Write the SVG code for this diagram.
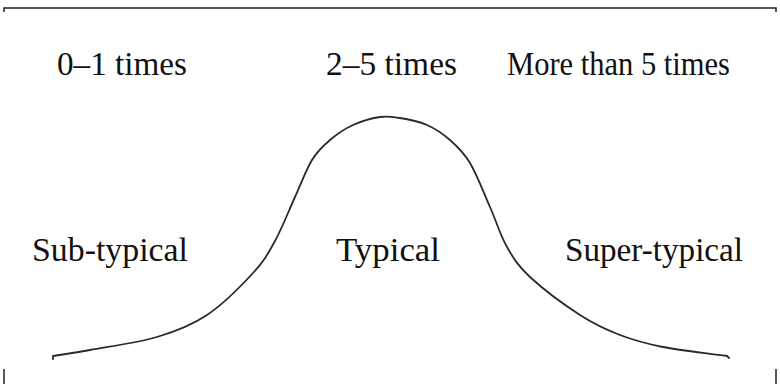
<svg xmlns="http://www.w3.org/2000/svg" width="780" height="384" viewBox="0 0 780 384">
<style>
.lbl{font-family:"Liberation Serif","Times New Roman",serif;font-size:34px;fill:#111}
.frame{fill:none;stroke:#222;stroke-width:1.5}
.curve{fill:none;stroke:#2a2a2a;stroke-width:1.8;stroke-linejoin:round;stroke-linecap:round}
</style>
<rect width="780" height="384" fill="#fff"/>
<g id="frame">
<path class="frame" d="M4,12 V8 H776 V12"/>
<path class="frame" d="M4,369 V384 M776,369 V384"/>
</g>
<g id="connectors">
<path id="bell-curve" class="curve" d="M53,359 L53,356 C65.3,354 72.7,353.2 90,350 C107.3,346.8 137.5,342.8 157,337 C176.5,331.2 191,325.7 207,315 C223,304.3 241.7,285.3 253,273 C264.3,260.7 268,253.7 275,241 C282,228.3 288.8,210.5 295,197 C301.2,183.5 306.2,169.5 312,160 C317.8,150.5 323.2,145.8 330,140 C336.8,134.2 344.7,128.8 353,125 C361.3,121.2 372.2,118.2 380,117 C387.8,115.8 392.2,116.7 400,118 C407.8,119.3 418.7,121.3 427,125 C435.3,128.7 442.8,133.7 450,140 C457.2,146.3 463.3,151.8 470,163 C476.7,174.2 483.8,193 490,207 C496.2,221 500.3,235.3 507,247 C513.7,258.7 517.8,265.7 530,277 C542.2,288.3 565,305.3 580,315 C595,324.7 606.2,329.7 620,335 C633.8,340.3 645.2,343.5 663,347 C680.8,350.5 705.7,353 727,356 L729,358"/>
</g>
<g id="label-0-1"><text class="lbl" x="57" y="75" textLength="130" lengthAdjust="spacingAndGlyphs">0–1 times</text></g>
<g id="label-2-5"><text class="lbl" x="326" y="75" textLength="131" lengthAdjust="spacingAndGlyphs">2–5 times</text></g>
<g id="label-more5"><text class="lbl" x="507" y="75" textLength="223" lengthAdjust="spacingAndGlyphs">More than 5 times</text></g>
<g id="label-sub"><text class="lbl" x="32" y="261" textLength="156" lengthAdjust="spacingAndGlyphs">Sub-typical</text></g>
<g id="label-typical"><text class="lbl" x="336" y="261" textLength="104" lengthAdjust="spacingAndGlyphs">Typical</text></g>
<g id="label-super"><text class="lbl" x="565" y="261" textLength="178" lengthAdjust="spacingAndGlyphs">Super-typical</text></g>
</svg>
